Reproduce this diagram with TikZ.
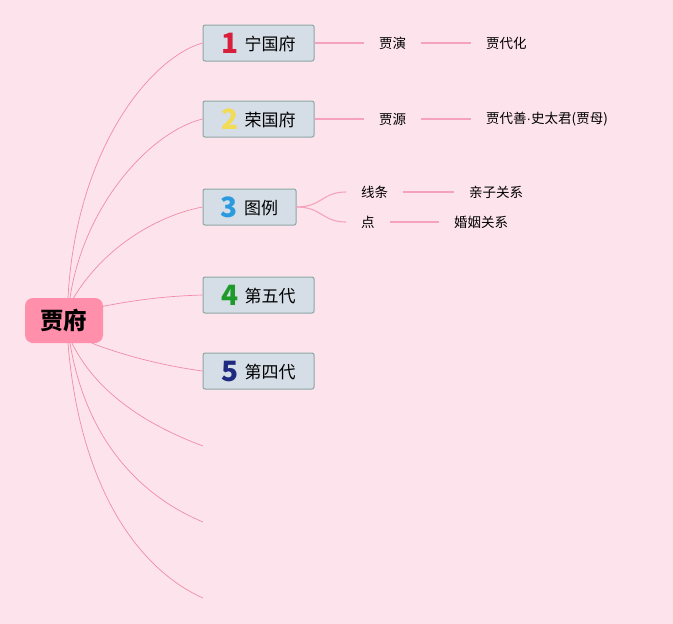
\documentclass[tikz,border=0pt]{standalone}
\usepackage{fontspec}
\setmainfont{Noto Sans CJK SC}
\newfontfamily\latinf{Liberation Sans}
\usetikzlibrary{calc}
\definecolor{bgpink}{HTML}{FDE3EB}
\definecolor{rootfill}{HTML}{FF8FAA}
\definecolor{boxfill}{HTML}{D5DDE6}
\definecolor{boxline}{HTML}{8AA8A4}
\definecolor{linkpink}{HTML}{F08CAA}
\definecolor{sublink}{HTML}{F5A3BC}
\definecolor{cone}{HTML}{D81E3A}
\definecolor{ctwo}{HTML}{F2DC55}
\definecolor{cthree}{HTML}{2B9BE0}
\definecolor{cfour}{HTML}{1E9A2A}
\definecolor{cfive}{HTML}{1E2A80}
\newcommand{\numtxt}[2]{\raisebox{-2.5pt}[0pt][0pt]{\fontsize{28}{28}\selectfont\bfseries\color{#1}#2}\hspace{6pt}}
\tikzset{
  rootbox/.style={draw=none, fill=rootfill, rounded corners=8pt, minimum width=78pt, minimum height=45pt, inner sep=0pt, font=\fontsize{23.5}{23.5}\selectfont\bfseries},
  mainbox/.style={draw=boxline, line width=1pt, fill=boxfill, rounded corners=2pt, minimum height=36pt, inner sep=0pt, text height=15pt, text depth=0pt, font=\fontsize{17}{17}\selectfont},
  leaf/.style={inner xsep=15pt, inner ysep=2pt, font=\fontsize{13.5}{13.5}\selectfont, anchor=west},
  mainlink/.style={draw=linkpink, line width=0.7pt},
  sublinkst/.style={draw=sublink, line width=1.1pt},
}
\begin{document}
\begin{tikzpicture}[x=1pt,y=-1pt]
\fill[bgpink] (0,0) rectangle (673,624);
\useasboundingbox (0,0) rectangle (673,624);

\node[rootbox] (root) at (64,320.5) {贾府};

\node[mainbox, minimum width=111pt] (b1) at (258.5,43) {\numtxt{cone}{1}宁国府};
\node[mainbox, minimum width=111pt] (b2) at (258.5,119) {\numtxt{ctwo}{2}荣国府};
\node[mainbox, minimum width=93pt] (b3) at (249.5,207) {\numtxt{cthree}{3}图例};
\node[mainbox, minimum width=111pt] (b4) at (258.5,295) {\numtxt{cfour}{4}第五代};
\node[mainbox, minimum width=111pt] (b5) at (258.5,371) {\numtxt{cfive}{5}第四代};

\coordinate (e6) at (203,446);
\coordinate (e7) at (203,522);
\coordinate (e8) at (203,598);

% main links
\draw[mainlink] ($(root.north)+(4,0)$) .. controls (76,150) and (150,58) .. (b1.west);
\draw[mainlink] ($(root.north)+(6,0)$) .. controls (84,205) and (150,132) .. (b2.west);
\draw[mainlink] ($(root.north)+(9,1)$) .. controls (105,245) and (160,215) .. (b3.west);
\draw[mainlink] ($(root.east)+(-1,-14)$) .. controls (140,299) and (170,296) .. (b4.west);
\draw[mainlink] ($(root.south)+(28,0)$) .. controls (125,356) and (165,366) .. (b5.west);
\draw[mainlink] ($(root.south)+(8,0)$) .. controls (100,400) and (160,430) .. (e6);
\draw[mainlink] ($(root.south)+(6,0)$) .. controls (88,450) and (150,500) .. (e7);
\draw[mainlink] ($(root.south)+(4,0)$) .. controls (80,490) and (140,570) .. (e8);

% leaves
\node[leaf] (yan) at (364,43) {贾演};
\node[leaf] (daihua) at (471,43) {贾代化};
\node[leaf] (yuan) at (364,119) {贾源};
\node[leaf] (daishan) at (471,119) {贾代善{\latinf ·}史太君(贾母)};
\node[leaf] (xian) at (346,192) {线条};
\node[leaf] (qinzi) at (454,192) {亲子关系};
\node[leaf] (dian) at (346,222) {点};
\node[leaf] (hunyin) at (439,222) {婚姻关系};

\draw[sublinkst] (b1.east) -- (yan.west);
\draw[sublinkst] (yan.east) -- (daihua.west);
\draw[sublinkst] (b2.east) -- (yuan.west);
\draw[sublinkst] (yuan.east) -- (daishan.west);
\draw[sublinkst] (b3.east) .. controls (322,207) and (322,192) .. (xian.west);
\draw[sublinkst] (b3.east) .. controls (322,207) and (322,222) .. (dian.west);
\draw[sublinkst] (xian.east) -- (qinzi.west);
\draw[sublinkst] (dian.east) -- (hunyin.west);
\end{tikzpicture}
\end{document}
